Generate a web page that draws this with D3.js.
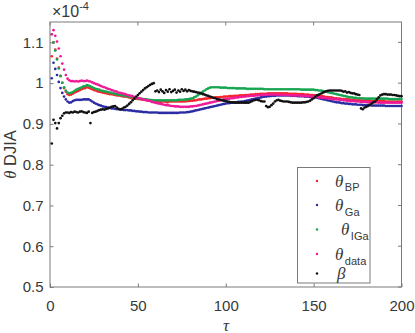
<!DOCTYPE html>
<html><head><meta charset="utf-8">
<script src="https://cdn.jsdelivr.net/npm/d3@7"></script>
<style>body{margin:0;background:#fff}svg{display:block}</style>
</head><body><svg id="c" width="415" height="333"></svg>
<script>
// tau = 1..200 (one point per tau)
const tau = d3.range(1, 201);

// values in units of 1e-4
const thetaBP = [
1.066,1.100,1.082,1.060,1.038,1.018,1.001,0.988,0.979,0.973,
0.971,0.972,0.974,0.977,0.979,0.981,0.983,0.985,0.987,0.988,
0.990,0.989,0.987,0.985,0.983,0.982,0.980,0.979,0.978,0.977,
0.976,0.975,0.974,0.973,0.973,0.972,0.971,0.970,0.970,0.969,
0.968,0.967,0.967,0.966,0.965,0.964,0.964,0.963,0.962,0.961,
0.961,0.960,0.960,0.959,0.958,0.958,0.957,0.957,0.956,0.956,
0.956,0.955,0.953,0.955,0.955,0.954,0.953,0.955,0.955,0.955,
0.955,0.955,0.955,0.955,0.955,0.955,0.955,0.956,0.956,0.957,
0.957,0.958,0.958,0.959,0.960,0.960,0.961,0.962,0.962,0.963,
0.963,0.964,0.964,0.965,0.965,0.965,0.966,0.966,0.967,0.967,
0.967,0.968,0.968,0.968,0.969,0.969,0.969,0.970,0.970,0.970,
0.971,0.971,0.971,0.972,0.972,0.972,0.973,0.973,0.973,0.974,
0.974,0.974,0.974,0.975,0.975,0.975,0.975,0.975,0.975,0.975,
0.975,0.975,0.975,0.975,0.975,0.974,0.974,0.974,0.974,0.974,
0.973,0.973,0.973,0.973,0.972,0.972,0.972,0.971,0.971,0.971,
0.970,0.970,0.969,0.968,0.968,0.967,0.966,0.966,0.965,0.965,
0.964,0.963,0.963,0.962,0.962,0.961,0.961,0.960,0.960,0.960,
0.959,0.959,0.959,0.958,0.958,0.958,0.958,0.957,0.957,0.957,
0.957,0.957,0.956,0.956,0.956,0.956,0.956,0.956,0.956,0.956,
0.955,0.955,0.955,0.955,0.955,0.955,0.955,0.955,0.955,0.955];

const thetaGa = [
1.012,1.050,1.035,1.020,1.003,0.988,0.976,0.967,0.960,0.955,
0.952,0.953,0.956,0.958,0.959,0.959,0.959,0.959,0.960,0.960,
0.960,0.960,0.958,0.955,0.952,0.950,0.948,0.946,0.945,0.943,
0.942,0.941,0.940,0.939,0.938,0.938,0.937,0.936,0.936,0.935,
0.935,0.934,0.934,0.934,0.933,0.933,0.932,0.932,0.931,0.931,
0.930,0.930,0.929,0.929,0.929,0.928,0.928,0.928,0.928,0.928,
0.928,0.927,0.927,0.927,0.927,0.927,0.927,0.927,0.927,0.927,
0.927,0.927,0.927,0.928,0.928,0.928,0.928,0.929,0.929,0.930,
0.931,0.932,0.933,0.934,0.935,0.936,0.937,0.938,0.939,0.940,
0.941,0.942,0.943,0.944,0.945,0.946,0.947,0.948,0.949,0.950,
0.951,0.951,0.952,0.952,0.953,0.953,0.954,0.954,0.955,0.955,
0.956,0.957,0.958,0.959,0.960,0.961,0.962,0.963,0.964,0.965,
0.966,0.967,0.967,0.968,0.968,0.969,0.969,0.969,0.970,0.970,
0.970,0.970,0.970,0.970,0.970,0.970,0.969,0.969,0.969,0.969,
0.968,0.968,0.968,0.968,0.967,0.967,0.967,0.966,0.966,0.966,
0.965,0.964,0.963,0.962,0.961,0.960,0.959,0.958,0.957,0.956,
0.955,0.954,0.953,0.953,0.952,0.951,0.951,0.950,0.950,0.949,
0.949,0.948,0.948,0.948,0.947,0.947,0.947,0.946,0.946,0.946,
0.946,0.946,0.945,0.945,0.945,0.945,0.945,0.945,0.945,0.945,
0.944,0.944,0.944,0.944,0.944,0.944,0.944,0.944,0.944,0.944];

const thetaIGa = [
1.120,1.100,1.080,1.058,1.036,1.017,1.001,0.990,0.982,0.977,
0.975,0.976,0.978,0.981,0.984,0.986,0.988,0.990,0.992,0.993,
0.995,0.994,0.992,0.990,0.988,0.986,0.985,0.984,0.982,0.981,
0.980,0.979,0.978,0.977,0.976,0.975,0.974,0.973,0.972,0.971,
0.970,0.970,0.969,0.968,0.967,0.966,0.966,0.965,0.964,0.963,
0.962,0.962,0.961,0.960,0.960,0.959,0.959,0.958,0.958,0.958,
0.958,0.958,0.958,0.958,0.958,0.958,0.958,0.958,0.958,0.958,
0.958,0.958,0.959,0.959,0.959,0.959,0.960,0.960,0.961,0.962,
0.963,0.965,0.967,0.970,0.973,0.976,0.979,0.982,0.985,0.987,
0.989,0.990,0.990,0.990,0.990,0.990,0.989,0.989,0.989,0.989,
0.988,0.988,0.988,0.988,0.988,0.987,0.987,0.987,0.987,0.987,
0.987,0.986,0.986,0.986,0.986,0.986,0.986,0.986,0.986,0.986,
0.986,0.985,0.985,0.985,0.985,0.985,0.985,0.985,0.985,0.985,
0.985,0.985,0.985,0.985,0.985,0.985,0.985,0.985,0.985,0.985,
0.985,0.985,0.984,0.984,0.984,0.984,0.984,0.984,0.984,0.984,
0.983,0.983,0.982,0.982,0.981,0.980,0.979,0.978,0.977,0.976,
0.975,0.974,0.973,0.972,0.971,0.970,0.969,0.968,0.967,0.966,
0.965,0.965,0.964,0.964,0.963,0.963,0.963,0.963,0.962,0.962,
0.962,0.962,0.962,0.962,0.962,0.962,0.962,0.962,0.962,0.962,
0.962,0.962,0.961,0.961,0.961,0.961,0.961,0.961,0.961,0.961];

const thetaData = [
1.120,1.130,1.116,1.102,1.085,1.066,1.048,1.033,1.020,1.011,
1.007,1.005,1.005,1.004,1.005,1.004,1.005,1.006,1.005,1.005,
1.006,1.005,1.004,1.002,1.000,0.998,0.997,0.995,0.993,0.991,
0.990,0.988,0.986,0.985,0.983,0.982,0.980,0.979,0.977,0.976,
0.975,0.974,0.973,0.971,0.970,0.969,0.968,0.966,0.965,0.964,
0.963,0.961,0.960,0.959,0.958,0.957,0.956,0.954,0.953,0.952,
0.951,0.950,0.949,0.948,0.947,0.946,0.946,0.945,0.944,0.944,
0.943,0.943,0.943,0.942,0.942,0.942,0.942,0.942,0.942,0.943,
0.943,0.944,0.944,0.945,0.946,0.947,0.948,0.949,0.950,0.951,
0.952,0.953,0.954,0.955,0.956,0.957,0.958,0.959,0.960,0.961,
0.961,0.962,0.963,0.963,0.964,0.965,0.965,0.966,0.966,0.967,
0.967,0.968,0.968,0.969,0.969,0.969,0.970,0.970,0.971,0.971,
0.971,0.972,0.972,0.972,0.972,0.972,0.972,0.972,0.972,0.972,
0.972,0.971,0.971,0.971,0.971,0.971,0.970,0.970,0.970,0.970,
0.970,0.969,0.969,0.969,0.969,0.968,0.968,0.968,0.967,0.967,
0.966,0.966,0.965,0.965,0.964,0.964,0.963,0.963,0.962,0.962,
0.961,0.961,0.960,0.960,0.959,0.959,0.958,0.958,0.957,0.957,
0.956,0.956,0.956,0.955,0.955,0.955,0.954,0.954,0.954,0.954,
0.953,0.953,0.953,0.953,0.953,0.953,0.952,0.952,0.952,0.952,
0.952,0.952,0.952,0.952,0.952,0.952,0.952,0.952,0.952,0.952];

const beta = [
0.852,0.910,0.902,0.889,0.902,0.914,0.920,0.926,0.928,0.928,
0.927,0.929,0.928,0.930,0.929,0.928,0.930,0.931,0.929,0.928,
0.927,0.930,0.902,0.927,0.929,0.930,0.932,0.934,0.935,0.936,
0.935,0.937,0.938,0.940,0.942,0.943,0.944,0.940,0.937,0.936,
0.937,0.940,0.942,0.945,0.949,0.953,0.958,0.962,0.967,0.971,
0.975,0.979,0.983,0.987,0.990,0.993,0.996,0.998,1.000,0.980,
0.982,0.978,0.984,0.980,0.976,0.983,0.979,0.985,0.978,0.981,
0.984,0.977,0.982,0.979,0.985,0.981,0.984,0.980,0.983,0.981,
0.980,0.979,0.978,0.977,0.976,0.975,0.973,0.972,0.970,0.969,
0.967,0.966,0.964,0.963,0.961,0.960,0.959,0.958,0.957,0.956,
0.955,0.954,0.953,0.953,0.952,0.952,0.952,0.952,0.952,0.952,
0.952,0.952,0.952,0.954,0.956,0.958,0.959,0.959,0.958,0.956,
0.955,0.955,0.944,0.941,0.942,0.946,0.950,0.955,0.958,0.959,
0.957,0.956,0.955,0.955,0.955,0.954,0.953,0.952,0.952,0.952,
0.952,0.952,0.952,0.953,0.953,0.954,0.955,0.957,0.960,0.963,
0.967,0.970,0.972,0.974,0.976,0.978,0.980,0.981,0.982,0.982,
0.982,0.982,0.982,0.982,0.982,0.981,0.979,0.980,0.977,0.978,
0.976,0.975,0.975,0.973,0.972,0.971,0.938,0.936,0.940,0.942,
0.944,0.947,0.950,0.953,0.955,0.960,0.965,0.970,0.972,0.973,
0.973,0.972,0.972,0.972,0.971,0.971,0.970,0.969,0.968,0.968];

const xTicks = [0, 50, 100, 150, 200];
const yTicks = [0.5, 0.6, 0.7, 0.8, 0.9, 1.0, 1.1];
const seriesNames = ["BP", "Ga", "IGa", "data", "beta"];
const legendSym = ["θ", "θ", "θ", "θ", "β"];
const legendSub = ["BP", "Ga", "IGa", "data", ""];

const colors = {BP:"#f5262b", Ga:"#2b2ca3", IGa:"#17a552", data:"#f01a96", beta:"#111111"};
const seriesData = {BP:thetaBP, Ga:thetaGa, IGa:thetaIGa, data:thetaData, beta:beta};

const svg = d3.select("#c");
const L = 50, R = 401.5, T = 22, B = 287;
const x = d3.scaleLinear().domain([0, 200]).range([L, R]);
const y = d3.scaleLinear().domain([0.5, 1.15]).range([B, T]);
const font = "'Liberation Sans', Arial, Helvetica, sans-serif";
const serif = "'Liberation Serif', 'DejaVu Serif', serif";
const txt = "#383838";
const axc = "#7a7a7a";

svg.append("rect").attr("x",0).attr("y",0).attr("width",415).attr("height",333).attr("fill","#fff");

// axes
const gx = svg.append("g").attr("transform", `translate(0,${B})`)
  .call(d3.axisBottom(x).tickValues(xTicks).tickSizeInner(-3.5).tickSizeOuter(0).tickPadding(13));
const gy = svg.append("g").attr("transform", `translate(${L},0)`)
  .call(d3.axisLeft(y).tickValues(yTicks).tickSizeInner(-3.5).tickSizeOuter(0).tickPadding(6.5)
    .tickFormat(d => String(+d.toFixed(1))));
[gx, gy].forEach(g => {
  g.select(".domain").remove();
  g.selectAll(".tick line").attr("stroke", axc);
  g.selectAll(".tick text").attr("fill", txt).style("font-family", font).style("font-size", "15px");
});
// top & right ticks
svg.append("g").selectAll("line").data(xTicks).join("line")
  .attr("x1", d => x(d)).attr("x2", d => x(d)).attr("y1", T).attr("y2", T + 3.5).attr("stroke", axc);
svg.append("g").selectAll("line").data(yTicks).join("line")
  .attr("x1", R).attr("x2", R - 3.5).attr("y1", d => y(d)).attr("y2", d => y(d)).attr("stroke", axc);
svg.append("rect").attr("x", L).attr("y", T).attr("width", R - L).attr("height", B - T)
  .attr("fill", "none").attr("stroke", axc).attr("stroke-width", 1);

// exponent
const ex = svg.append("text").attr("x", 52).attr("y", 17.3).attr("fill", txt)
  .style("font-family", font).style("font-size", "16px");
ex.append("tspan").text("×10");
ex.append("tspan").attr("dy", -7.5).style("font-size", "11px").text("-4");

// series
seriesNames.forEach(n => {
  svg.append("g").selectAll("circle").data(seriesData[n]).join("circle")
    .attr("cx", (d, i) => x(tau[i])).attr("cy", d => y(d)).attr("r", 1.35)
    .attr("fill", colors[n]);
});

// labels
svg.append("text").attr("x", 226).attr("y", 330.5).attr("text-anchor", "middle")
  .attr("fill", txt).style("font-family", serif).style("font-style", "italic").style("font-size", "17px").text("τ");
const yl = svg.append("text").attr("transform", `translate(15.5,${(T + B) / 2}) rotate(-90)`)
  .attr("text-anchor", "middle").attr("fill", txt).style("font-family", font).style("font-size", "16.5px");
yl.append("tspan").style("font-family", serif).style("font-style", "italic").text("θ");
yl.append("tspan").text(" DJIA");

// legend
svg.append("rect").attr("x", 297.5).attr("y", 167.5).attr("width", 72.5).attr("height", 115.5)
  .attr("fill", "#fff").attr("stroke", axc).attr("stroke-width", 1);
const legY = [181, 205, 229.5, 254, 273.5];
const legX = [335, 335, 341, 335, 337];
const legSubDy = [4.5, 5, 5, 5.5, 0];
seriesNames.forEach((n, i) => {
  svg.append("circle").attr("cx", 317).attr("cy", legY[i]).attr("r", 1.2).attr("fill", colors[n]);
  const t = svg.append("text").attr("x", legX[i]).attr("y", legY[i] + 5.5).attr("fill", txt)
    .style("font-family", serif).style("font-size", "17px");
  t.append("tspan").style("font-style", "italic").text(legendSym[i]);
  if (legendSub[i]) t.append("tspan").attr("dx", 1.5).attr("dy", legSubDy[i])
    .style("font-family", font).style("font-size", "11px").text(legendSub[i]);
});
</script></body></html>
